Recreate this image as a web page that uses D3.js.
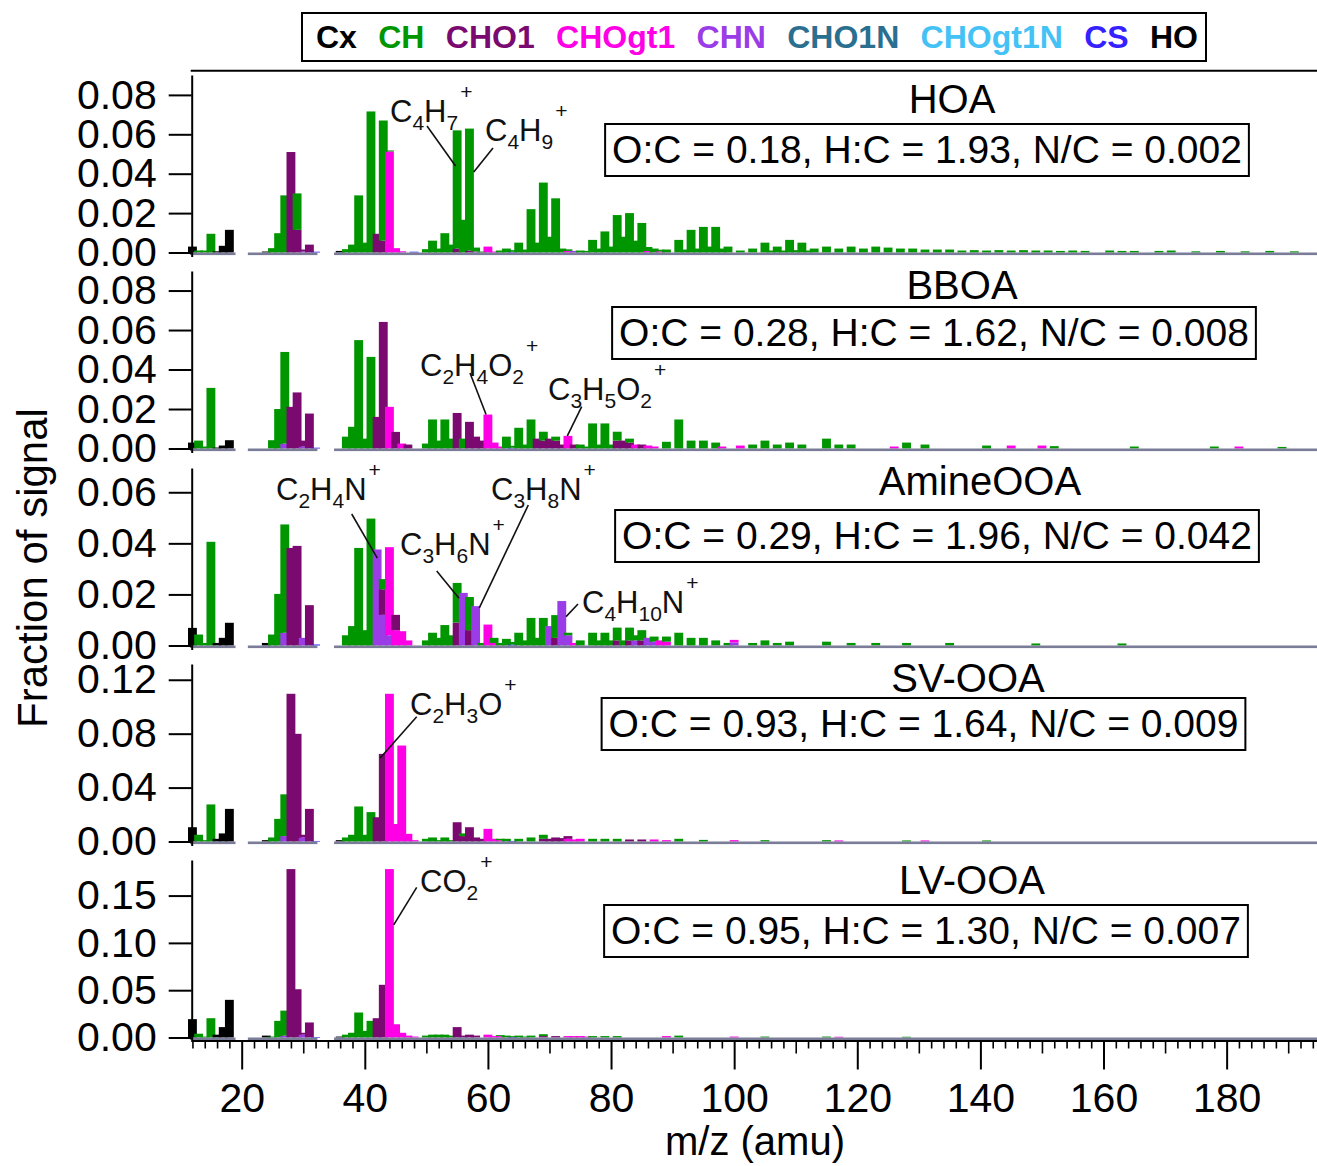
<!DOCTYPE html>
<html>
<head>
<meta charset="utf-8">
<script src="https://cdn.jsdelivr.net/npm/d3@7"></script>
<style>
  body { margin: 0; background: #fff; }
  svg { display: block; font-family: "Liberation Sans", Arial, sans-serif; }
</style>
</head>
<body>
<svg id="chart" width="1317" height="1166"></svg>
<script>
// Ion families (legend order) and their colours
const families = ["Cx", "CH", "CHO1", "CHOgt1", "CHN", "CHO1N", "CHOgt1N", "CS", "HO"];
const familyColors = ["#000000", "#009600", "#7a0a70", "#ff00e6", "#9a3de6", "#2a6f8f", "#45c2f5", "#3520ff", "#000000"];

// Factor names and elemental ratios
const factorNames = ["HOA", "BBOA", "AmineOOA", "SV-OOA", "LV-OOA"];
const ratioLabels = [
  "O:C = 0.18, H:C = 1.93, N/C = 0.002",
  "O:C = 0.28, H:C = 1.62, N/C = 0.008",
  "O:C = 0.29, H:C = 1.96, N/C = 0.042",
  "O:C = 0.93, H:C = 1.64, N/C = 0.009",
  "O:C = 0.95, H:C = 1.30, N/C = 0.007"
];
const yMaxes = [0.0901, 0.0899, 0.0695, 0.1317, 0.1876];
const yTickValues = [
  [0, 0.02, 0.04, 0.06, 0.08],
  [0, 0.02, 0.04, 0.06, 0.08],
  [0, 0.02, 0.04, 0.06],
  [0, 0.04, 0.08, 0.12],
  [0, 0.05, 0.10, 0.15]
];
const xMajorTicks = [20, 40, 60, 80, 100, 120, 140, 160, 180];
const mzRange = [11.88, 194.68];

// ---- HOA spectrum, [m/z, fraction] per family ----
const hoaCx = [[12, .003], [24, .0005], [36, .0008]];
const hoaHO = [[16, .0006], [17, .0034], [18, .0115]];
const hoaCH = [[13, .001], [14, .001], [15, .0095], [25, .0022], [26, .0098], [27, .029], [29, .0185], [37, .0017], [38, .004], [39, .029], [40, .005], [41, .0716], [43, .061], [44, .0005], [50, .0017], [51, .006], [52, .002], [53, .0098], [54, .004], [55, .060], [56, .0166], [57, .0619], [58, .002], [59, .0005], [62, .001], [63, .002], [64, .0008], [65, .005], [66, .0015], [67, .022], [68, .005], [69, .0355], [70, .008], [71, .0275], [72, .002], [73, .0008], [75, .001], [76, .0008], [77, .0064], [78, .002], [79, .0107], [80, .003], [81, .019], [82, .008], [83, .020], [84, .006], [85, .015], [86, .002], [87, .002], [88, .0008], [89, .0015], [91, .0064], [92, .0015], [93, .0115], [94, .002], [95, .013], [96, .003], [97, .013], [98, .002], [99, .003], [101, .001], [103, .002], [105, .005], [106, .001], [107, .003], [108, .001], [109, .0064], [110, .0012], [111, .005], [112, .001], [113, .002], [115, .003], [117, .002], [119, .003], [121, .002], [123, .003], [125, .0025], [127, .002], [129, .002], [131, .0015], [133, .0015], [135, .0015], [137, .001], [139, .0012], [141, .001], [143, .0012], [145, .001], [147, .0012], [149, .001], [151, .001], [153, .0008], [155, .001], [157, .0008], [161, .001], [163, .0008], [165, .0008], [169, .0008], [171, .001], [175, .0006], [179, .0008], [183, .0006], [187, .0008], [191, .0006]];
const hoaCHO1 = [[28, .051], [29, .0115], [30, .001], [31, .004], [42, .0095], [43, .006], [55, .002], [57, .001]];
const hoaCHOgt1 = [[44, .0513], [45, .0022], [46, .0006], [60, .003], [61, .0005], [73, .0008], [86, .0008], [88, .0006]];
const hoaCHN = [[30, .0005], [58, .0005], [74, .0008]];
const hoaCS = [[32, .0004], [48, .0004], [64, .0004]];

// ---- BBOA spectrum ----
const bbCx = [[12, .003]];
const bbHO = [[16, .0005], [17, .0015], [18, .0042]];
const bbCH = [[13, .004], [14, .001], [15, .0307], [25, .0042], [26, .020], [27, .0464], [37, .006], [38, .011], [39, .0549], [40, .005], [41, .0464], [50, .0025], [51, .0147], [52, .004], [53, .0147], [54, .005], [56, .005], [63, .006], [64, .001], [65, .0105], [66, .002], [67, .0147], [69, .0045], [71, .002], [75, .002], [76, .001], [77, .0127], [78, .002], [79, .0127], [80, .002], [81, .0045], [83, .002], [89, .0034], [91, .0147], [93, .004], [95, .004], [97, .003], [103, .002], [105, .004], [107, .002], [109, .003], [111, .002], [115, .005], [117, .002], [119, .002], [128, .003], [131, .002], [141, .0015], [152, .0012], [165, .001], [178, .001], [189, .0008]];
const bbCHO1 = [[28, .0211], [29, .0284], [30, .003], [31, .0177], [42, .016], [43, .0641], [45, .0084], [47, .002], [55, .018], [57, .0135], [58, .006], [59, .004], [68, .005], [69, .004], [70, .005], [71, .004], [72, .002], [74, .002], [81, .004], [82, .004], [83, .003], [85, .002]];
const bbCHOgt1 = [[44, .0211], [46, .0025], [60, .0172], [61, .003], [62, .001], [73, .0064], [84, .002], [86, .0015], [87, .001], [98, .001], [101, .0015], [126, .001], [145, .0015], [150, .0015], [182, .001]];
const bbCHN = [[27, .0025], [30, .001]];
const bbCS = [[32, .0004], [64, .0004]];

// ---- AmineOOA spectrum ----
const amCx = [[12, .0069], [24, .001]];
const amHO = [[16, .001], [17, .003], [18, .0089]];
const amCH = [[13, .0043], [14, .001], [15, .0406], [25, .0043], [26, .0202], [27, .0424], [37, .004], [38, .0076], [39, .0382], [40, .006], [41, .0497], [43, .004], [50, .002], [51, .005], [52, .003], [53, .008], [54, .004], [55, .0155], [57, .013], [59, .001], [61, .002], [62, .001], [63, .0026], [64, .001], [65, .005], [66, .002], [67, .0108], [68, .003], [69, .0108], [71, .0089], [73, .001], [75, .002], [77, .005], [78, .002], [79, .005], [80, .002], [81, .005], [82, .002], [83, .005], [84, .002], [85, .004], [87, .002], [89, .002], [91, .005], [93, .003], [95, .003], [97, .002], [99, .001], [103, .001], [105, .002], [107, .001], [109, .0015], [115, .0015], [119, .001], [123, .001], [128, .001], [135, .001], [149, .0008], [163, .0008]];
const amCHO1 = [[28, .0382], [29, .039], [31, .0158], [43, .010], [45, .006], [55, .009], [57, .006], [71, .003], [81, .002], [83, .002], [85, .002]];
const amCHOgt1 = [[44, .0345], [45, .006], [46, .0056], [47, .002], [60, .0082], [61, .001], [74, .001], [88, .002], [89, .0015], [100, .001]];
const amCHN = [[27, .005], [30, .003], [42, .0376], [43, .012], [44, .004], [56, .0206], [58, .0154], [70, .0076], [72, .0174], [73, .004], [84, .002], [86, .003], [87, .0015], [100, .0012]];
const amCS = [[32, .0004], [64, .0004]];

// ---- SV-OOA spectrum ----
const svCx = [[12, .0106], [24, .001], [36, .001]];
const svHO = [[16, .002], [17, .006], [18, .0242]];
const svCH = [[13, .005], [14, .001], [15, .0275], [25, .003], [26, .0168], [27, .031], [37, .003], [38, .005], [39, .026], [40, .005], [41, .0218], [50, .002], [51, .003], [52, .001], [53, .003], [54, .001], [56, .002], [62, .001], [63, .002], [65, .002], [67, .003], [69, .003], [77, .002], [79, .002], [81, .002], [91, .002], [95, .0012], [105, .001], [115, .001], [128, .0008], [141, .0008]];
const svCHO1 = [[28, .1096], [29, .0799], [30, .002], [31, .0242], [42, .018], [43, .065], [55, .0143], [56, .004], [57, .0106], [58, .003], [59, .002], [69, .002], [70, .002], [71, .003], [72, .0025], [73, .002], [83, .0015], [85, .0015]];
const svCHOgt1 = [[44, .1096], [45, .013], [46, .0712], [47, .0057], [48, .001], [60, .0094], [61, .002], [62, .001], [73, .002], [74, .0015], [75, .002], [87, .0015], [89, .001], [100, .001], [117, .0008], [131, .0008]];
const svCHN = [[27, .004], [30, .003]];
const svCS = [[32, .0004], [64, .0004]];

// ---- LV-OOA spectrum ----
const lvCx = [[12, .0194], [24, .002], [36, .001]];
const lvHO = [[16, .003], [17, .011], [18, .0398]];
const lvCH = [[13, .004], [14, .001], [15, .0204], [25, .001], [26, .0176], [27, .0264], [37, .003], [38, .005], [39, .0264], [40, .007], [41, .0176], [50, .002], [51, .003], [52, .003], [53, .003], [54, .002], [62, .001], [63, .002], [64, .001], [65, .002], [66, .001], [67, .002], [69, .002], [77, .0015], [79, .0015], [81, .0015], [91, .002], [105, .001], [115, .001], [128, .0008]];
const lvCHO1 = [[28, .178], [29, .051], [30, .002], [31, .0159], [42, .0204], [43, .0557], [55, .011], [56, .002], [57, .003], [58, .002], [69, .0015], [71, .0015]];
const lvCHOgt1 = [[44, .178], [45, .014], [46, .005], [47, .002], [48, .001], [60, .003], [61, .0015], [62, .0015], [73, .0015], [74, .0015], [75, .0015], [76, .001], [89, .0015], [100, .001], [117, .0008]];
const lvCHN = [[27, .002], [30, .003]];
const lvCS = [[32, .0004], [64, .0004]];

// m/z stretches covered by the measured spectrum (drawn as a baseline)
const spectrumRanges = [[11.6, 19.0], [21.0, 32.3], [35.0, 194.7]];

// Labelled ions: formula parts [text, isSubscript]; tx/ty = text start, from = leader start, to = [m/z, fraction]
const ionLabels = [
  { panel: 0, parts: [["C", 0], ["4", 1], ["H", 0], ["7", 1]], tx: 390, ty: 122, from: [427, 126], to: [54.74, 0.0439] },
  { panel: 0, parts: [["C", 0], ["4", 1], ["H", 0], ["9", 1]], tx: 485, ty: 141, from: [493, 148], to: [57.7, 0.0409] },
  { panel: 1, parts: [["C", 0], ["2", 1], ["H", 0], ["4", 1], ["O", 0], ["2", 1]], tx: 420, ty: 376, from: [470, 373], to: [59.7, 0.0172] },
  { panel: 1, parts: [["C", 0], ["3", 1], ["H", 0], ["5", 1], ["O", 0], ["2", 1]], tx: 548, ty: 400, from: [581.7, 406.7], to: [72.9, 0.0064] },
  { panel: 2, parts: [["C", 0], ["2", 1], ["H", 0], ["4", 1], ["N", 0]], tx: 276, ty: 500, from: [351.7, 514], to: [42.03, 0.0342] },
  { panel: 2, parts: [["C", 0], ["3", 1], ["H", 0], ["6", 1], ["N", 0]], tx: 400, ty: 555, from: [436.7, 571], to: [55.3, 0.0185] },
  { panel: 2, parts: [["C", 0], ["3", 1], ["H", 0], ["8", 1], ["N", 0]], tx: 491, ty: 500, from: [528.3, 505], to: [58.6, 0.0147] },
  { panel: 2, parts: [["C", 0], ["4", 1], ["H", 0], ["10", 1], ["N", 0]], tx: 582, ty: 613, from: [578, 604], to: [72.7, 0.0113] },
  { panel: 3, parts: [["C", 0], ["2", 1], ["H", 0], ["3", 1], ["O", 0]], tx: 410, ty: 715, from: [416.7, 716.7], to: [42.5, 0.062] },
  { panel: 4, parts: [["C", 0], ["O", 0], ["2", 1]], tx: 420, ty: 892, from: [416.7, 887.3], to: [44.7, 0.119] }
];

// Per-factor tables built from the arrays above
const spectra = [
  { Cx: hoaCx, CH: hoaCH, CHO1: hoaCHO1, CHOgt1: hoaCHOgt1, CHN: hoaCHN, CS: hoaCS, HO: hoaHO },
  { Cx: bbCx, CH: bbCH, CHO1: bbCHO1, CHOgt1: bbCHOgt1, CHN: bbCHN, CS: bbCS, HO: bbHO },
  { Cx: amCx, CH: amCH, CHO1: amCHO1, CHOgt1: amCHOgt1, CHN: amCHN, CS: amCS, HO: amHO },
  { Cx: svCx, CH: svCH, CHO1: svCHO1, CHOgt1: svCHOgt1, CHN: svCHN, CS: svCS, HO: svHO },
  { Cx: lvCx, CH: lvCH, CHO1: lvCHO1, CHOgt1: lvCHOgt1, CHN: lvCHN, CS: lvCS, HO: lvHO }
];

// ---------------- layout ----------------
const svg = d3.select("#chart");
const plotLeft = 191.7, plotRight = 1317;
const panelTops = [75, 271, 468, 664, 860];
const panelHeight = 177.5;   // axis top to zero line
const belowZero = 4;
const barHalfWidth = 0.72;   // in m/z units
const titleX = [952, 962, 980, 968, 972];
const titleBase = [113, 299, 495, 692, 894];
const ratioX = [927, 934, 937, 923.5, 926];
const ratioBase = [163, 346, 549, 737, 944];
const colorOf = d3.scaleOrdinal().domain(families).range(familyColors);
const stackOrder = families.slice().reverse();  // bottom → top

const x = d3.scaleLinear().domain(mzRange).range([plotLeft, plotRight]);
const axisColor = "#000";
const fontStack = "'Liberation Sans', Arial, sans-serif";

spectra.forEach((spec, p) => {
  const top = panelTops[p];
  const zeroY = top + panelHeight;
  const pxPerUnit = panelHeight / yMaxes[p];
  const y = d3.scaleLinear()
    .domain([-belowZero / pxPerUnit, yMaxes[p]])
    .range([zeroY + belowZero, top]);

  const g = svg.append("g").attr("class", "panel");

  // collect every m/z and build the family stacks
  const byMz = new Map();
  families.forEach(f => {
    (spec[f] || []).forEach(([mz, v]) => {
      if (!byMz.has(mz)) byMz.set(mz, {});
      byMz.get(mz)[f] = v;
    });
  });
  const mzs = Array.from(byMz.keys()).sort((a, b) => a - b);
  const segments = [];
  mzs.forEach(mz => {
    let base = 0;
    const row = byMz.get(mz);
    stackOrder.forEach(f => {
      const v = row[f] || 0;
      if (v > 0) {
        segments.push({ mz, fam: f, y0: base, y1: base + v });
        base += v;
      }
    });
  });

  g.append("g").selectAll("rect")
    .data(segments)
    .join("rect")
    .attr("x", d => x(d.mz - barHalfWidth))
    .attr("width", d => x(d.mz + barHalfWidth) - x(d.mz - barHalfWidth))
    .attr("y", d => y(d.y1))
    .attr("height", d => Math.max(0.6, y(d.y0) - y(d.y1)))
    .attr("fill", d => colorOf(d.fam));

  // baseline of the spectrum
  g.append("g").selectAll("rect")
    .data(spectrumRanges)
    .join("rect")
    .attr("x", d => x(d[0]))
    .attr("width", d => x(d[1]) - x(d[0]))
    .attr("y", y(0))
    .attr("height", 2.6)
    .attr("fill", "#7b7d98");

  // y axis
  const yAxis = d3.axisLeft(y)
    .tickValues(yTickValues[p])
    .tickFormat(d3.format(".2f"))
    .tickSize(23)
    .tickSizeOuter(0)
    .tickPadding(12);
  const ya = g.append("g")
    .attr("transform", `translate(${plotLeft},0)`)
    .call(yAxis);
  ya.select(".domain").attr("stroke", axisColor).attr("stroke-width", 2);
  ya.selectAll(".tick line").attr("stroke", axisColor).attr("stroke-width", 2);
  ya.selectAll(".tick text")
    .attr("font-size", 41)
    .attr("font-family", fontStack)
    .attr("fill", "#000");

  // factor name and elemental ratio box
  g.append("text")
    .attr("x", titleX[p])
    .attr("y", titleBase[p])
    .attr("text-anchor", "middle")
    .attr("font-size", 40)
    .text(factorNames[p]);

  const boxRect = g.append("rect");
  const rt = g.append("text")
    .attr("x", ratioX[p])
    .attr("y", ratioBase[p])
    .attr("text-anchor", "middle")
    .attr("font-size", 39)
    .text(ratioLabels[p]);
  const bb = rt.node().getBBox();
  boxRect
    .attr("x", bb.x - 7)
    .attr("y", bb.y - 4)
    .attr("width", bb.width + 14)
    .attr("height", bb.height + 9)
    .attr("fill", "#fff")
    .attr("stroke", "#000")
    .attr("stroke-width", 2);

  // ion annotations
  ionLabels.filter(a => a.panel === p).forEach(a => {
    g.append("line")
      .attr("x1", a.from[0]).attr("y1", a.from[1])
      .attr("x2", x(a.to[0])).attr("y2", y(a.to[1]))
      .attr("stroke", "#111").attr("stroke-width", 1.6);
    const t = g.append("text")
      .attr("x", a.tx).attr("y", a.ty)
      .attr("font-size", 31)
      .attr("fill", "#111");
    let sub = false;
    a.parts.forEach(([txt, isSub]) => {
      const ts = t.append("tspan").text(txt);
      if (isSub && !sub) { ts.attr("dy", 8).attr("font-size", 21); sub = true; }
      else if (isSub) { ts.attr("font-size", 21); }
      else if (sub) { ts.attr("dy", -8); sub = false; }
    });
    t.append("tspan")
      .attr("dy", sub ? -31 : -23)
      .attr("dx", 2)
      .attr("font-size", 21)
      .text("+");
  });
});

// top frame line
svg.append("line")
  .attr("x1", plotLeft - 1).attr("x2", plotRight)
  .attr("y1", 70.7).attr("y2", 70.7)
  .attr("stroke", axisColor).attr("stroke-width", 2);

// x axis
const xAxisY = 1040.5;
const minorTicks = d3.range(12, 195, 2).filter(v => v % 10 !== 0);
const midTicks = d3.range(10, 195, 10).filter(v => v % 20 !== 0 && v > 11);

const xa = svg.append("g").attr("transform", `translate(0,${xAxisY})`);
xa.call(d3.axisBottom(x).tickValues(xMajorTicks).tickFormat(d3.format("d")).tickSize(29).tickSizeOuter(0).tickPadding(13));
xa.select(".domain").attr("stroke", axisColor).attr("stroke-width", 2);
xa.selectAll(".tick line").attr("stroke", axisColor).attr("stroke-width", 2);
xa.selectAll(".tick text").attr("font-size", 41).attr("font-family", fontStack).attr("fill", "#000");

const xm = svg.append("g").attr("transform", `translate(0,${xAxisY})`);
xm.call(d3.axisBottom(x).tickValues(minorTicks).tickFormat("").tickSize(8).tickSizeOuter(0));
xm.select(".domain").remove();
xm.selectAll(".tick line").attr("stroke", axisColor).attr("stroke-width", 1.6);

const xmid = svg.append("g").attr("transform", `translate(0,${xAxisY})`);
xmid.call(d3.axisBottom(x).tickValues(midTicks).tickFormat("").tickSize(13).tickSizeOuter(0));
xmid.select(".domain").remove();
xmid.selectAll(".tick line").attr("stroke", axisColor).attr("stroke-width", 1.6);

// axis titles
svg.append("text")
  .attr("transform", "translate(47,568) rotate(-90)")
  .attr("text-anchor", "middle")
  .attr("font-size", 42)
  .text("Fraction of signal");

svg.append("text")
  .attr("x", 755).attr("y", 1155)
  .attr("text-anchor", "middle")
  .attr("font-size", 40)
  .text("m/z (amu)");

// legend
const legend = svg.append("g");
legend.append("rect")
  .attr("x", 302).attr("y", 13).attr("width", 904).attr("height", 48)
  .attr("fill", "#fff").attr("stroke", "#000").attr("stroke-width", 2);
const legItems = legend.selectAll("text.leg")
  .data(families)
  .join("text")
  .attr("class", "leg")
  .attr("y", 48)
  .attr("font-size", 32)
  .attr("font-weight", "bold")
  .attr("fill", (d, i) => familyColors[i])
  .text(d => d);
const widths = legItems.nodes().map(n => n.getComputedTextLength());
const legStart = 316, legEnd = 1198;
const gap = (legEnd - legStart - d3.sum(widths)) / (families.length - 1);
let cx = legStart;
legItems.each(function (d, i) {
  d3.select(this).attr("x", cx);
  cx += widths[i] + gap;
});
</script>
</body>
</html>
